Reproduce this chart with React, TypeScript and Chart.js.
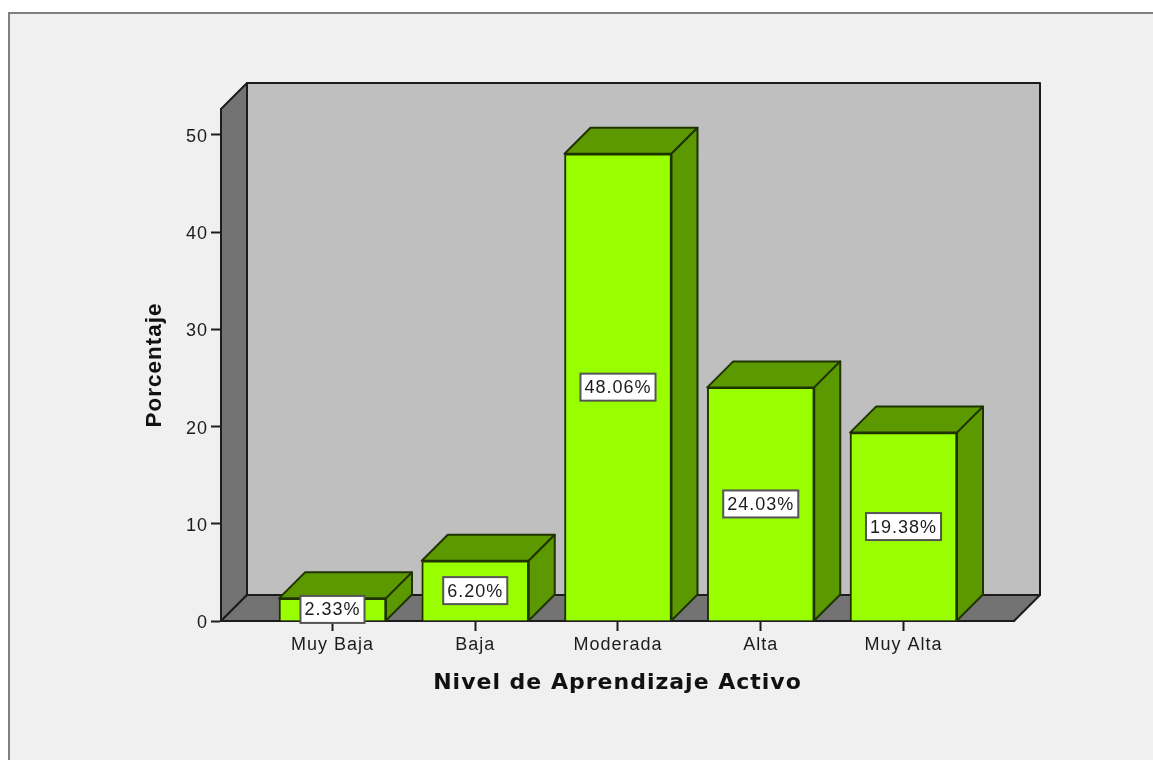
import React, { useEffect, useRef } from "react";
import { Chart, registerables } from "chart.js";

Chart.register(...registerables);

const categories = ["Muy Baja", "Baja", "Moderada", "Alta", "Muy Alta"];
const percentages = [2.33, 6.2, 48.06, 24.03, 19.38];
const yTickValues = [0, 10, 20, 30, 40, 50];
const xAxisTitle = "Nivel de Aprendizaje Activo";
const yAxisTitle = "Porcentaje";

const DEPTH = 26;
const INK = "#1c1c1c";
const BAR_FRONT = "#99ff00";
const BAR_SHADE = "#5c9900";
const BAR_EDGE = "#1f3300";
const WALL = "#bfbfbf";
const WALL_SHADE = "#737373";
const PANEL = "#f0f0f0";
const FRAME = "#808080";
const SANS = '"Liberation Sans", Arial, sans-serif';

function poly(ctx: CanvasRenderingContext2D, pts: number[][], fill: string, stroke: string, lw = 2) {
  ctx.beginPath();
  pts.forEach((p, i) => (i ? ctx.lineTo(p[0], p[1]) : ctx.moveTo(p[0], p[1])));
  ctx.closePath();
  ctx.fillStyle = fill;
  ctx.fill();
  ctx.lineWidth = lw;
  ctx.strokeStyle = stroke;
  ctx.lineJoin = "round";
  ctx.stroke();
}

const box3d = {
  id: "box3d",
  beforeDraw(chart: any) {
    const { ctx, chartArea: a, width, height } = chart;
    ctx.save();
    ctx.fillStyle = "#ffffff";
    ctx.fillRect(0, 0, width, height);
    ctx.fillStyle = PANEL;
    ctx.fillRect(9, 13, width - 9, height - 13);
    ctx.strokeStyle = FRAME;
    ctx.lineWidth = 2;
    ctx.beginPath();
    ctx.moveTo(9, height);
    ctx.lineTo(9, 13);
    ctx.lineTo(width, 13);
    ctx.stroke();
    const d = DEPTH;
    poly(ctx, [[a.left + d, a.top - d], [a.right + d, a.top - d], [a.right + d, a.bottom - d], [a.left + d, a.bottom - d]], WALL, INK);
    poly(ctx, [[a.left, a.top], [a.left + d, a.top - d], [a.left + d, a.bottom - d], [a.left, a.bottom]], WALL_SHADE, INK);
    poly(ctx, [[a.left, a.bottom], [a.left + d, a.bottom - d], [a.right + d, a.bottom - d], [a.right, a.bottom]], WALL_SHADE, INK);
    ctx.restore();
    (ctx as any).letterSpacing = "1px";
  },
  beforeDatasetsDraw(chart: any) {
    const { ctx } = chart;
    ctx.save();
    chart.getDatasetMeta(0).data.forEach((bar: any) => {
      const l = bar.x - bar.width / 2;
      const r = bar.x + bar.width / 2;
      const d = DEPTH;
      poly(ctx, [[l, bar.y], [l + d, bar.y - d], [r + d, bar.y - d], [r, bar.y]], BAR_SHADE, BAR_EDGE);
      poly(ctx, [[r, bar.y], [r + d, bar.y - d], [r + d, bar.base - d], [r, bar.base]], BAR_SHADE, BAR_EDGE);
    });
    ctx.restore();
  },
  afterDatasetsDraw(chart: any) {
    const { ctx } = chart;
    ctx.save();
    ctx.font = `18px ${SANS}`;
    ctx.textAlign = "center";
    ctx.textBaseline = "middle";
    chart.getDatasetMeta(0).data.forEach((bar: any, i: number) => {
      const text = `${percentages[i].toFixed(2)}%`;
      const w = ctx.measureText(text).width + 8;
      const h = 27;
      const cy = (bar.y + bar.base) / 2;
      ctx.fillStyle = "#ffffff";
      ctx.fillRect(bar.x - w / 2, cy - h / 2, w, h);
      ctx.strokeStyle = "#555555";
      ctx.lineWidth = 2;
      ctx.strokeRect(bar.x - w / 2, cy - h / 2, w, h);
      ctx.fillStyle = INK;
      ctx.fillText(text, bar.x, cy + 1);
    });
    ctx.restore();
  },
};

export default function App() {
  const ref = useRef<HTMLCanvasElement>(null);
  useEffect(() => {
    const chart = new Chart(ref.current as HTMLCanvasElement, {
      type: "bar",
      data: {
        datasets: [
          {
            data: percentages.map((y, x) => ({ x, y })),
            backgroundColor: BAR_FRONT,
            borderColor: BAR_EDGE,
            borderWidth: 2,
            barThickness: 107,
          },
        ],
      },
      options: {
        responsive: false,
        animation: false,
        layout: { padding: { left: 0, right: 139, top: 109, bottom: 0 } },
        plugins: { legend: { display: false }, tooltip: { enabled: false } },
        scales: {
          x: {
            type: "linear",
            offset: false,
            min: -0.781,
            max: 4.774,
            afterBuildTicks: (s: any) => {
              s.ticks = categories.map((_, value) => ({ value }));
            },
            afterFit: (s: any) => {
              s.height = 139;
            },
            grid: { offset: false, drawOnChartArea: false, drawTicks: true, tickLength: 10, tickColor: INK, tickWidth: 2 },
            border: { display: true, color: INK, width: 2 },
            ticks: {
              autoSkip: false,
              maxRotation: 0,
              padding: 3,
              color: INK,
              font: { family: SANS, size: 18 },
              callback: (v: any) => categories[v],
            },
            title: {
              display: true,
              text: xAxisTitle,
              color: "#111111",
              font: { family: '"DejaVu Sans", sans-serif', size: 22, weight: "bold" },
              padding: { top: 0, bottom: 64 },
            },
          },
          y: {
            min: 0,
            max: 52.67,
            afterBuildTicks: (s: any) => {
              s.ticks = yTickValues.map((value) => ({ value }));
            },
            afterFit: (s: any) => {
              s.width = 221;
            },
            grid: { drawOnChartArea: false, drawTicks: true, tickLength: 10, tickColor: INK, tickWidth: 2 },
            border: { display: true, color: INK, width: 2 },
            ticks: { padding: 3, labelOffset: 2, color: INK, font: { family: SANS, size: 18 } },
            title: {
              display: true,
              text: yAxisTitle,
              color: "#111111",
              font: { family: SANS, size: 22.5, weight: "bold" },
              padding: { top: 141, bottom: 0 },
            },
          },
        },
      },
      plugins: [box3d],
    } as any);
    return () => chart.destroy();
  }, []);
  return (
    <div style={{ position: "absolute", left: 0, top: 0, width: 1153, height: 760 }}>
      <canvas ref={ref} width={1153} height={760} style={{ display: "block" }} />
    </div>
  );
}
